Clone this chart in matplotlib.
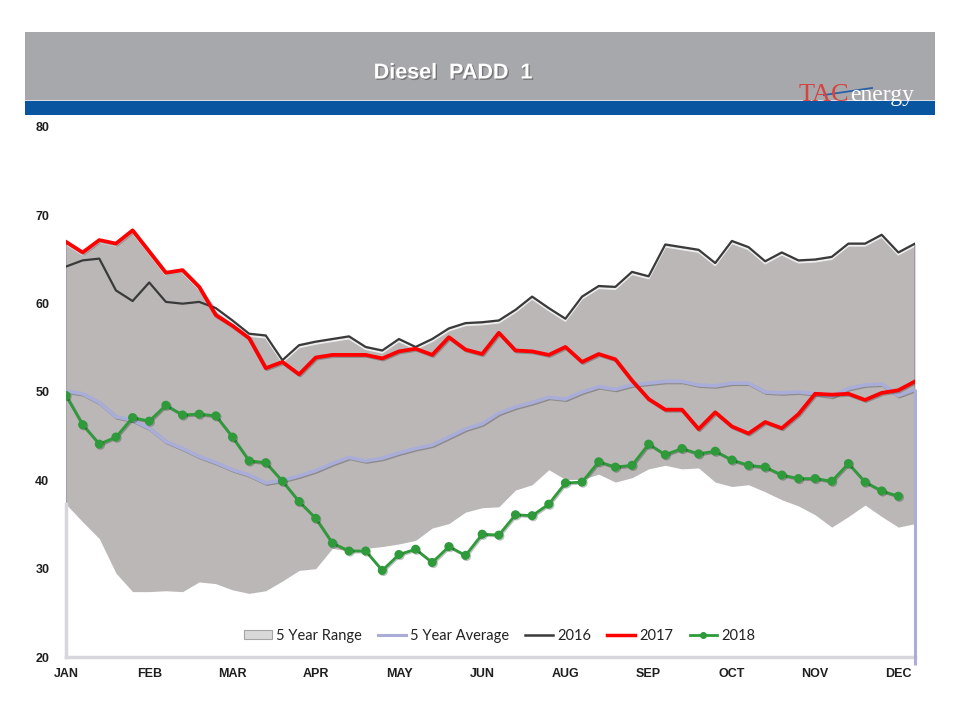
import numpy as np
import matplotlib
matplotlib.use("Agg")
import matplotlib.pyplot as plt
from matplotlib.patches import Rectangle, Patch
from matplotlib.lines import Line2D
import matplotlib.patheffects as pe
from matplotlib.transforms import offset_copy

# ---------------- data ----------------
weeks = np.arange(52)
month_labels = ['JAN', 'FEB', 'MAR', 'APR', 'MAY', 'JUN', 'AUG', 'SEP', 'OCT', 'NOV', 'DEC']

range_upper = [67.0, 65.8, 67.2, 66.8, 68.3, 65.9, 63.5, 63.8, 61.9, 59.5,
               58.1, 56.6, 56.4, 53.6, 55.3, 55.7, 56.0, 56.3, 55.1, 54.7,
               56.0, 55.1, 56.0, 57.2, 57.8, 57.9, 58.1, 59.3, 60.8, 59.5,
               58.3, 60.8, 62.0, 61.9, 63.6, 63.1, 66.7, 66.4, 66.1, 64.6,
               67.1, 66.4, 64.8, 65.8, 64.9, 65.0, 65.3, 66.8, 66.8, 67.8,
               65.8, 66.8]
range_lower = [37.3, 35.3, 33.4, 29.5, 27.4, 27.4, 27.5, 27.4, 28.5, 28.3,
               27.6, 27.2, 27.5, 28.6, 29.8, 30.0, 32.3, 32.0, 32.3, 32.5,
               32.8, 33.2, 34.6, 35.1, 36.4, 36.9, 37.0, 38.9, 39.5, 41.2,
               40.1, 40.1, 40.7, 39.8, 40.3, 41.3, 41.7, 41.3, 41.4, 39.8,
               39.3, 39.5, 38.7, 37.8, 37.1, 36.1, 34.7, 35.9, 37.2, 35.9,
               34.7, 35.1]
avg5 = [50.1, 49.8, 48.8, 47.2, 46.8, 45.9, 44.4, 43.6, 42.7, 42.0,
        41.2, 40.6, 39.7, 40.0, 40.5, 41.1, 41.9, 42.6, 42.2, 42.5,
        43.1, 43.6, 44.0, 44.9, 45.8, 46.4, 47.6, 48.3, 48.8, 49.4,
        49.2, 50.0, 50.6, 50.3, 50.8, 51.0, 51.2, 51.2, 50.8, 50.7,
        51.0, 51.0, 50.0, 49.9, 50.0, 49.8, 49.5, 50.4, 50.8, 50.9,
        49.6, 50.3]
y2016 = [64.2, 64.9, 65.1, 61.5, 60.3, 62.4, 60.2, 60.0, 60.2, 59.5,
         58.1, 56.6, 56.4, 53.6, 55.3, 55.7, 56.0, 56.3, 55.1, 54.7,
         56.0, 55.1, 56.0, 57.2, 57.8, 57.9, 58.1, 59.3, 60.8, 59.5,
         58.3, 60.8, 62.0, 61.9, 63.6, 63.1, 66.7, 66.4, 66.1, 64.6,
         67.1, 66.4, 64.8, 65.8, 64.9, 65.0, 65.3, 66.8, 66.8, 67.8,
         65.8, 66.8]
y2017 = [67.0, 65.8, 67.2, 66.8, 68.3, 65.9, 63.5, 63.8, 61.9, 58.7,
         57.5, 56.1, 52.7, 53.4, 52.0, 53.9, 54.2, 54.2, 54.2, 53.8,
         54.6, 54.9, 54.2, 56.2, 54.8, 54.3, 56.7, 54.7, 54.6, 54.2,
         55.1, 53.4, 54.3, 53.7, 51.3, 49.2, 48.0, 48.0, 45.8, 47.7,
         46.1, 45.3, 46.6, 45.9, 47.5, 49.8, 49.7, 49.8, 49.1, 49.9,
         50.2, 51.2]
y2018 = [49.6, 46.3, 44.1, 44.9, 47.1, 46.7, 48.5, 47.4, 47.5, 47.3,
         44.9, 42.2, 42.0, 39.9, 37.6, 35.7, 32.9, 32.0, 32.0, 29.8,
         31.6, 32.2, 30.7, 32.5, 31.5, 33.9, 33.8, 36.1, 36.0, 37.3,
         39.7, 39.8, 42.1, 41.5, 41.7, 44.1, 42.9, 43.6, 43.0, 43.3,
         42.3, 41.7, 41.5, 40.6, 40.2, 40.2, 39.9, 41.9, 39.8, 38.8,
         38.2]
weeks2018 = weeks[:len(y2018)]

# ---------------- figure ----------------
W, H = 960, 720
fig = plt.figure(figsize=(9.6, 7.2), dpi=100)
fig.patch.set_facecolor('white')

def fx(px):
    return px / W

def fy(py):
    return 1 - py / H

# header bands
fig.patches.append(Rectangle((fx(25), fy(100)), fx(910), 68 / H, transform=fig.transFigure,
                             facecolor='#A7A8AB', edgecolor='none', zorder=0))
fig.patches.append(Rectangle((fx(25), fy(115)), fx(910), 15 / H, transform=fig.transFigure,
                             facecolor='#0A55A0', edgecolor='none', zorder=0))
fig.patches.append(Rectangle((fx(25), fy(101)), fx(910), 1.2 / H, transform=fig.transFigure,
                             facecolor='#D8DCE6', edgecolor='none', zorder=1))

fig.text(fx(453), fy(73), 'Diesel  PADD  1', color='white', fontsize=15.5, fontweight='bold',
         family='Liberation Sans', ha='center', va='center',
         path_effects=[pe.withSimplePatchShadow(offset=(1, -1), shadow_rgbFace='#555555', alpha=0.6)])

# logo
fig.text(fx(799), fy(101), 'TAC', color='#D7433E', fontsize=19, family='Liberation Serif',
         ha='left', va='baseline')
fig.text(fx(850), fy(101), 'energy', color='white', fontsize=17, family='Liberation Serif',
         ha='left', va='baseline')
fig.lines.append(Line2D([fx(824), fx(872)], [fy(95), fy(88)], transform=fig.transFigure,
                        color='#2D5FA8', lw=1.3))

# axes
ax = fig.add_axes([fx(66), fy(657), fx(849), 530 / H])
ax.set_xlim(0, 51)
ax.set_ylim(20, 80)

# 5 year range
ax.fill_between(weeks, range_lower, range_upper, color='#BBB7B7', lw=0, zorder=1)
hl = offset_copy(ax.transData, fig=fig, x=0, y=-2.2, units='dots')
ax.plot(weeks, range_upper, color='#EEEEEE', lw=1.3, transform=hl, zorder=1.5)
ax.vlines([weeks[0], weeks[-1]], [range_lower[0], range_lower[-1]],
          [range_upper[0], range_upper[-1]], color='#9D9AA6', lw=1.3, zorder=1.6)

shadow = [pe.SimpleLineShadow(offset=(0.8, -0.8), alpha=0.25), pe.Normal()]

ax.plot(weeks, avg5, color='#A9ADD8', lw=2.6, zorder=3, path_effects=shadow)
ax.vlines(weeks[-1], 19.1, avg5[-1], color='#A9ADD8', lw=2.2, zorder=3, clip_on=False)
ax.plot(weeks, y2016, color='#3A3A3A', lw=1.6, zorder=4)
ax.plot(weeks, y2017, color='#FF0000', lw=2.7, zorder=5, path_effects=shadow)
ax.plot(weeks2018, y2018, color='#2E9A3A', lw=2.0, marker='o', ms=5.5, zorder=6,
        path_effects=shadow)

# axes styling
for s in ['top', 'right']:
    ax.spines[s].set_visible(False)
for s in ['left', 'bottom']:
    ax.spines[s].set_color('#D6D6DC')
    ax.spines[s].set_linewidth(2.5)
ax.spines['left'].set_bounds(20, range_lower[0])
ax.set_facecolor('white')

ax.set_yticks(np.arange(20, 81, 10))
ax.set_xticks(weeks[::5])
ax.set_xticklabels(month_labels)
ax.tick_params(axis='both', length=0)
ax.tick_params(axis='y', pad=12)
ax.tick_params(axis='x', pad=8)
for lab in ax.get_xticklabels() + ax.get_yticklabels():
    lab.set_fontfamily('Liberation Sans')
    lab.set_fontweight('bold')
    lab.set_fontsize(9)
    lab.set_color('#1E1E1E')

# legend
handles = [
    Patch(facecolor='#D9D9D9', edgecolor='#A5A5A5', lw=0.8, label='5 Year Range'),
    Line2D([], [], color='#A9ADD8', lw=2.2, label='5 Year Average'),
    Line2D([], [], color='#3A3A3A', lw=1.8, label='2016'),
    Line2D([], [], color='#FF0000', lw=2.5, label='2017'),
    Line2D([], [], color='#2E9A3A', lw=2.0, marker='o', ms=4, label='2018'),
]
leg = ax.legend(handles=handles, loc='center', bbox_to_anchor=(0.511, 0.04), ncol=5,
                frameon=False, prop={'family': 'Lato', 'size': 10.5},
                handlelength=1.9, handletextpad=0.3, columnspacing=1.1,
                handleheight=0.6)
for t in leg.get_texts():
    t.set_color('#222222')

fig.savefig('out.png', dpi=100, facecolor='white')
